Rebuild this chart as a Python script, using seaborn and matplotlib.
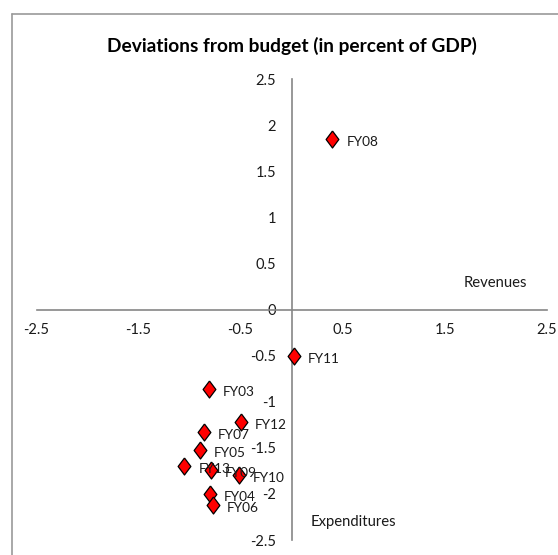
import matplotlib
matplotlib.use("Agg")
import matplotlib.pyplot as plt
import seaborn as sns
import pandas as pd

labels = ["FY03", "FY04", "FY05", "FY06", "FY07", "FY08", "FY09", "FY10", "FY11", "FY12", "FY13"]
revenues = [-0.81, -0.80, -0.90, -0.77, -0.86, 0.40, -0.79, -0.52, 0.02, -0.50, -1.05]
expenditures = [-0.86, -2.00, -1.52, -2.12, -1.33, 1.85, -1.74, -1.80, -0.50, -1.22, -1.70]
xticks = [-2.5, -1.5, -0.5, 0.5, 1.5, 2.5]
yticks = [-2.5, -2, -1.5, -1, -0.5, 0, 0.5, 1, 1.5, 2, 2.5]

df = pd.DataFrame({"label": labels, "Revenues": revenues, "Expenditures": expenditures})

sns.set_theme(style="white")
plt.rcParams["font.family"] = ["Lato", "DejaVu Sans"]

fig = plt.figure(figsize=(5.58, 5.55), dpi=100)
fig.patch.set_facecolor("white")
ax = fig.add_axes([36.5 / 558, 15 / 555, 510.2 / 558, 461 / 555])

diamond = [(0, 1), (0.75, 0), (0, -1), (-0.75, 0), (0, 1)]
sns.scatterplot(data=df, x="Revenues", y="Expenditures", ax=ax, marker=diamond,
                s=150, color="#ff0000", edgecolor="black", linewidth=0.9, zorder=3, legend=False)

for lab, xv, yv in zip(labels, revenues, expenditures):
    ax.annotate(lab, (xv, yv), xytext=(14, -3), textcoords="offset pixels",
                fontsize=9.8, ha="left", va="center", color="#1a1a1a", zorder=4)

ax.set_xlim(-2.5, 2.5)
ax.set_ylim(-2.5, 2.5)
for s in ["top", "right"]:
    ax.spines[s].set_visible(False)
ax.spines["left"].set_position(("data", 0))
ax.spines["bottom"].set_position(("data", 0))
for s in ["left", "bottom"]:
    ax.spines[s].set_color("#868686")
    ax.spines[s].set_linewidth(1.2)
ax.set_xticks(xticks)
ax.set_xticklabels([f"{v:g}" for v in xticks])
ax.set_yticks(yticks)
ax.set_yticklabels([f"{v:g}" for v in yticks])
ax.tick_params(axis="x", direction="in", length=5, width=1, color="#868686", pad=10, labelsize=10.5, labelcolor="#1a1a1a")
ax.tick_params(axis="y", direction="out", length=4, width=1, color="#868686", pad=7, labelsize=10.5, labelcolor="#1a1a1a")
ax.set_xlabel("")
ax.set_ylabel("")
ax.patch.set_alpha(0)

ax.text(2.31, 0.29, "Revenues", fontsize=10.7, ha="right", va="center", color="#1a1a1a")
ax.text(0.19, -2.3, "Expenditures", fontsize=10.7, ha="left", va="center", color="#1a1a1a")

fig.text(292 / 558, 1 - 46 / 555, "Deviations from budget (in percent of GDP)", fontsize=13.8,
         fontweight="bold", ha="center", va="center", color="black")

# outer frame (top and left visible)
fig.add_artist(plt.Line2D([11.5 / 558, 11.5 / 558], [0, 1 - 14 / 555], transform=fig.transFigure, color="#999999", lw=1.2))
fig.add_artist(plt.Line2D([11.5 / 558, 1], [1 - 14 / 555, 1 - 14 / 555], transform=fig.transFigure, color="#999999", lw=1.2))

fig.savefig("out.png", dpi=100, facecolor="white")
